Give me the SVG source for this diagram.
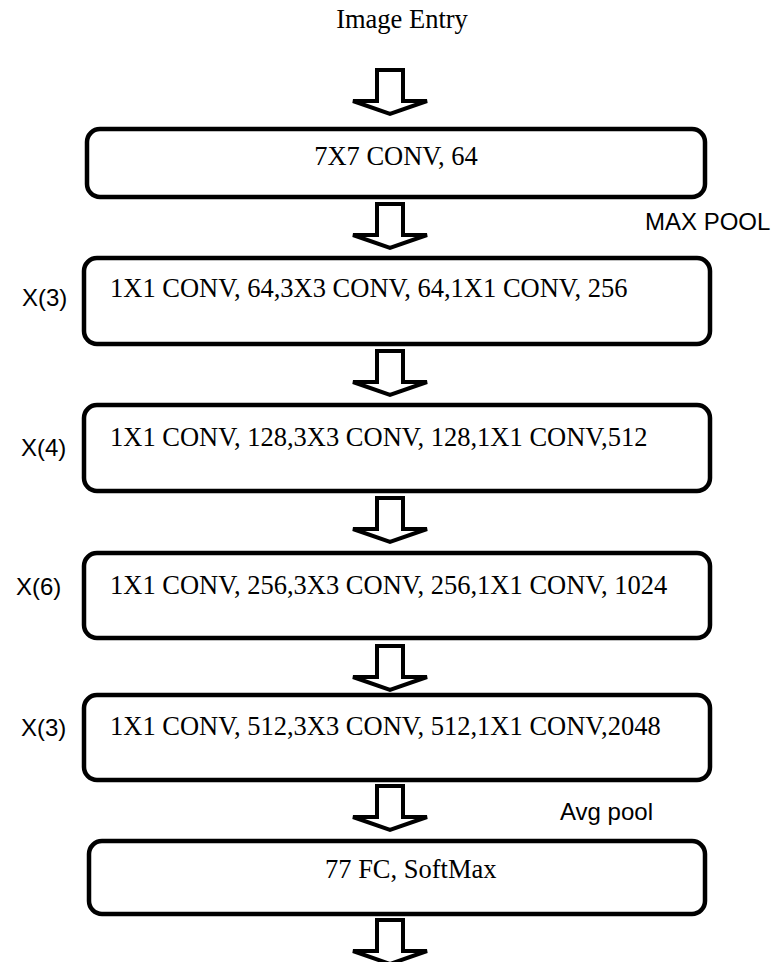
<svg xmlns="http://www.w3.org/2000/svg" width="774" height="962" viewBox="0 0 774 962">
<style>
.box{fill:#fff;stroke:#000;stroke-width:4.5}
.arr{fill:#fff;stroke:#000;stroke-width:4;stroke-linejoin:miter}
.t{font-family:"Liberation Serif","Times New Roman",serif;font-size:26.5px;fill:#000}
.s{font-family:"Liberation Sans",Arial,sans-serif;font-size:24px;fill:#000}
</style>
<defs>
<path id="blk" d="M-13,0 H13 V31 H37 L0,44 L-37,31 H-13 Z"/>
</defs>
<text class="t" x="402" y="28" text-anchor="middle">Image Entry</text>
<g id="connectors">
<use href="#blk" class="arr" x="390" y="70"/>
<use href="#blk" class="arr" x="390" y="204"/>
<use href="#blk" class="arr" x="390" y="351"/>
<use href="#blk" class="arr" x="390" y="498"/>
<use href="#blk" class="arr" x="390" y="646"/>
<use href="#blk" class="arr" x="390" y="786"/>
<use href="#blk" class="arr" x="390" y="920"/>
</g>
<g id="n1"><rect class="box" x="87" y="129" width="618" height="68" rx="13"/><text class="t" x="396" y="165" text-anchor="middle">7X7 CONV, 64</text></g>
<text class="s" x="645" y="230">MAX POOL</text>
<g id="n2"><rect class="box" x="84" y="258" width="626" height="86" rx="13"/><text class="t" x="110" y="297">1X1 CONV, 64,3X3 CONV, 64,1X1 CONV, 256</text></g>
<text class="s" x="22" y="306">X(3)</text>
<g id="n3"><rect class="box" x="84" y="405" width="626" height="86" rx="13"/><text class="t" x="110" y="446">1X1 CONV, 128,3X3 CONV, 128,1X1 CONV,512</text></g>
<text class="s" x="21" y="456">X(4)</text>
<g id="n4"><rect class="box" x="84" y="553" width="626" height="85" rx="13"/><text class="t" x="110" y="594">1X1 CONV, 256,3X3 CONV, 256,1X1 CONV, 1024</text></g>
<text class="s" x="16" y="595">X(6)</text>
<g id="n5"><rect class="box" x="84" y="695" width="626" height="85" rx="13"/><text class="t" x="110" y="735">1X1 CONV, 512,3X3 CONV, 512,1X1 CONV,2048</text></g>
<text class="s" x="21" y="736">X(3)</text>
<text class="s" x="560" y="820">Avg pool</text>
<g id="n6"><rect class="box" x="89" y="841" width="616" height="73" rx="13"/><text class="t" x="325" y="878">77 FC, SoftMax</text></g>
</svg>
